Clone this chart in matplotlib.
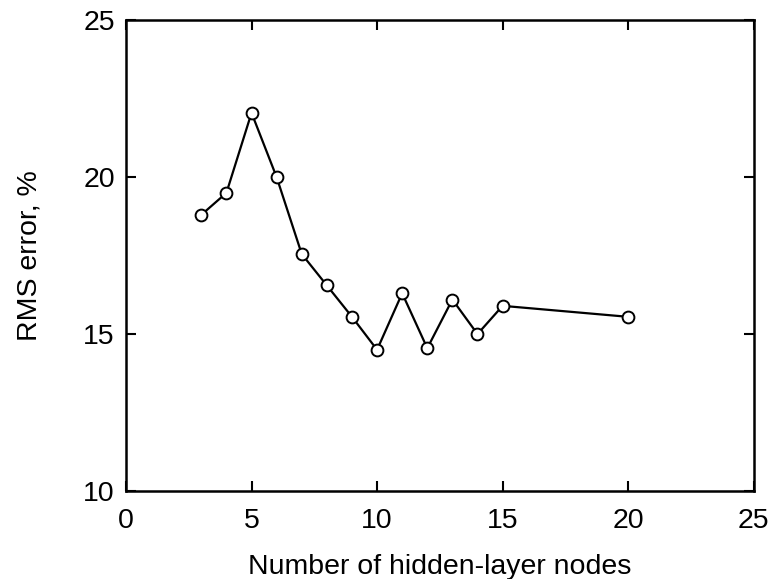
import matplotlib.pyplot as plt

plt.rcParams['font.family'] = ['Liberation Sans', 'DejaVu Sans']

# данные
nodes = [3, 4, 5, 6, 7, 8, 9, 10, 11, 12, 13, 14, 15, 20]
rms_error = [18.8, 19.5, 22.05, 20.0, 17.55, 16.55, 15.55, 14.5, 16.3, 14.55, 16.1, 15.0, 15.9, 15.55]
x_ticks = [0, 5, 10, 15, 20, 25]
y_ticks = [10, 15, 20, 25]

fig = plt.figure(figsize=(7.73, 5.79), dpi=100)
ax = fig.add_axes([0.163, 0.152, 0.812, 0.813])

ax.plot(nodes, rms_error, color="black", linewidth=1.6, marker="o",
        markersize=8.5, markerfacecolor="white", markeredgecolor="black",
        markeredgewidth=1.4)

ax.set_xlim(0, 25)
ax.set_ylim(10, 25)
ax.set_xticks(x_ticks)
ax.set_yticks(y_ticks)
ax.tick_params(direction="in", top=True, right=True, length=7, width=1.5,
               labelsize=20.5)
ax.tick_params(axis="x", pad=12)
ax.tick_params(axis="y", pad=8)
for s in ax.spines.values():
    s.set_linewidth(1.8)

ax.set_xlabel("Number of hidden-layer nodes", fontsize=20.5, labelpad=15)
ax.set_ylabel("RMS error, %", fontsize=20.5, labelpad=29)

fig.savefig("out.png", dpi=100)
